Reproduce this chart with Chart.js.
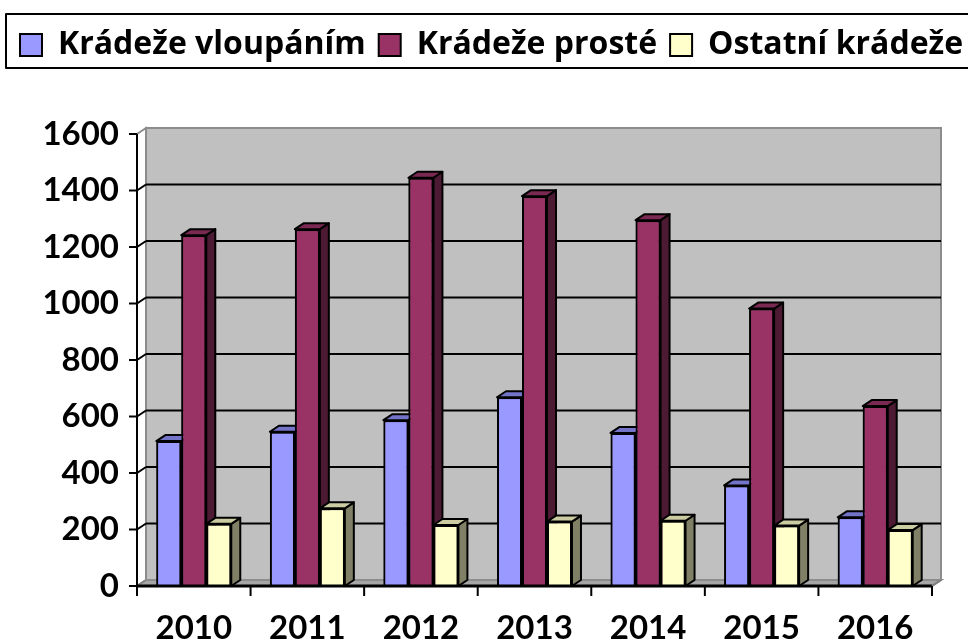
<!DOCTYPE html>
<html>
<head>
<meta charset="utf-8">
<script src="https://cdn.jsdelivr.net/npm/chart.js@4.4.0/dist/chart.umd.min.js"></script>
<style>
    html, body { margin: 0; padding: 0; background: #fff; }
    #wrap { width: 968px; height: 643px; }
</style>
</head>
<body>
<div id="wrap"><canvas id="theftChart"></canvas></div>
<script>
const years = ['2010', '2011', '2012', '2013', '2014', '2015', '2016'];
const burglary = [513, 546, 587, 668, 542, 356, 243];
const simpleTheft = [1242, 1263, 1445, 1380, 1295, 982, 637];
const otherTheft = [220, 275, 216, 228, 231, 214, 198];
const yTicks = [0, 200, 400, 600, 800, 1000, 1200, 1400, 1600];

// depth of the fake 3d box (back wall offset)
const DX = 9;
const DY = -6;

function poly(ctx, pts, fill, stroke, lw) {
    ctx.beginPath();
    ctx.moveTo(pts[0][0], pts[0][1]);
    for (let i = 1; i < pts.length; i++) ctx.lineTo(pts[i][0], pts[i][1]);
    ctx.closePath();
    if (fill) { ctx.fillStyle = fill; ctx.fill(); }
    if (stroke) { ctx.strokeStyle = stroke; ctx.lineWidth = lw || 2; ctx.stroke(); }
}

function line(ctx, x1, y1, x2, y2, color, lw) {
    ctx.beginPath();
    ctx.moveTo(x1, y1);
    ctx.lineTo(x2, y2);
    ctx.strokeStyle = color;
    ctx.lineWidth = lw || 2;
    ctx.stroke();
}

const depthPlugin = {
    id: 'depth3d',
    beforeLayout(chart) {
        const lg = chart.legend;
        if (lg && !lg._tall) {
            const fit = lg.fit;
            // one row, and a tall box so the plot starts lower
            lg.fit = function () {
                const mw = this.maxWidth;
                this.maxWidth = 2000;
                fit.call(this);
                this.maxWidth = mw;
                this.width = mw;
                this.height = 118;
            };
            lg._tall = true;
        }
    },
    afterLayout(chart) {
        // let the last legend item run past the plot's right edge
        chart.legend.right = 1000;
        chart.legend.width = 1000 - chart.legend.left;
    },
    beforeDatasetsDraw(chart) {
        const { ctx, chartArea: a, scales: { y } } = chart;
        ctx.save();
        // left wall
        poly(ctx, [[a.left, a.top], [a.left + DX, a.top + DY], [a.left + DX, a.bottom + DY], [a.left, a.bottom]], '#ffffff', '#8c8c8c', 2);
        // floor
        poly(ctx, [[a.left, a.bottom], [a.left + DX, a.bottom + DY], [a.right + DX, a.bottom + DY], [a.right, a.bottom]], '#a6a6a6', '#808080', 2);
        // back wall
        ctx.fillStyle = '#c0c0c0';
        ctx.fillRect(a.left + DX, a.top + DY, a.right - a.left, a.bottom - a.top);
        ctx.strokeStyle = '#8c8c8c';
        ctx.lineWidth = 2;
        ctx.strokeRect(a.left + DX, a.top + DY, a.right - a.left, a.bottom - a.top);
        // grid lines on back wall
        yTicks.forEach(v => {
            if (v === 0 || v === yTicks[yTicks.length - 1]) return;
            const py = y.getPixelForValue(v);
            line(ctx, a.left, py, a.left + DX, py + DY, '#000', 2);
            line(ctx, a.left + DX, py + DY, a.right + DX, py + DY, '#000', 2);
        });
        ctx.restore();
    },
    afterDatasetsDraw(chart) {
        const { ctx, chartArea: a, scales: { x, y } } = chart;
        ctx.save();
        ctx.lineJoin = 'round';
        // redraw bars series by series so each one hides the side of the one before
        chart.data.datasets.forEach((ds, i) => {
            chart.getDatasetMeta(i).data.forEach(bar => {
                bar.draw(ctx);
                const { x: bx, y: by, base, width } = bar.getProps(['x', 'y', 'base', 'width'], true);
                const l = bx - width / 2, r = bx + width / 2;
                poly(ctx, [[r, by], [r + DX, by + DY], [r + DX, base + DY], [r, base]], ds.sideColor, '#000', 2);
                poly(ctx, [[l, by], [l + DX, by + DY], [r + DX, by + DY], [r, by]], ds.topColor, '#000', 2);
            });
        });
        // front axes
        line(ctx, a.left, a.top, a.left, a.bottom + 1, '#000', 2);
        yTicks.forEach(v => {
            const py = y.getPixelForValue(v);
            line(ctx, a.left - 8, py, a.left, py, '#000', 2);
        });
        line(ctx, a.left, a.bottom, a.right, a.bottom, '#000', 3);
        line(ctx, a.right, a.bottom, a.right + DX, a.bottom + DY, '#808080', 2);
        const step = x.getPixelForTick(1) - x.getPixelForTick(0);
        for (let i = 0; i <= years.length; i++) {
            const px = x.getPixelForTick(0) - step / 2 + i * step;
            line(ctx, px, a.bottom, px, a.bottom + 10, '#000', 2);
        }
        // frame round the legend
        ctx.strokeStyle = '#000';
        ctx.lineWidth = 2;
        ctx.strokeRect(6, 14, 980, 54);
        ctx.restore();
    }
};

Chart.defaults.font.family = 'Lato';
Chart.defaults.font.weight = 'bold';
Chart.defaults.color = '#000';

const ctx = document.getElementById('theftChart').getContext('2d');

new Chart(ctx, {
    type: 'bar',
    data: {
        labels: years,
        datasets: [
            {
                label: 'Krádeže vloupáním',
                data: burglary,
                backgroundColor: '#9999ff',
                topColor: '#7373c8',
                sideColor: '#4c4c80',
                borderColor: '#000',
                borderWidth: 2
            },
            {
                label: 'Krádeže prosté',
                data: simpleTheft,
                backgroundColor: '#993366',
                topColor: '#7a2952',
                sideColor: '#4d1a33',
                borderColor: '#000',
                borderWidth: 2
            },
            {
                label: 'Ostatní krádeže',
                data: otherTheft,
                backgroundColor: '#ffffcc',
                topColor: '#cccca3',
                sideColor: '#808066',
                borderColor: '#000',
                borderWidth: 2
            }
        ]
    },
    options: {
        responsive: true,
        maintainAspectRatio: false,
        animation: false,
        layout: {
            padding: { top: 16, right: 36, left: 7, bottom: 0 }
        },
        datasets: {
            bar: {
                barPercentage: 1,
                categoryPercentage: 0.66
            }
        },
        plugins: {
            legend: {
                position: 'top',
                align: 'start',
                labels: {
                    boxWidth: 22,
                    boxHeight: 22,
                    padding: 13,
                    font: { family: 'Open Sans', size: 32, weight: 'bold' }
                }
            },
            tooltip: { enabled: false }
        },
        scales: {
            x: {
                grid: { display: false, drawTicks: false },
                border: { display: false },
                ticks: {
                    padding: 23,
                    font: { size: 33, weight: 'bold' }
                },
                afterFit(scale) { scale.height = 57; }
            },
            y: {
                min: 0,
                max: 1600,
                grid: { display: false, drawTicks: false },
                border: { display: false },
                ticks: {
                    stepSize: 200,
                    padding: 18,
                    font: { size: 33, weight: 'bold' },
                    callback: value => String(value)
                },
                afterFit(scale) { scale.width = 130; }
            }
        }
    },
    plugins: [depthPlugin]
});
</script>
</body>
</html>
